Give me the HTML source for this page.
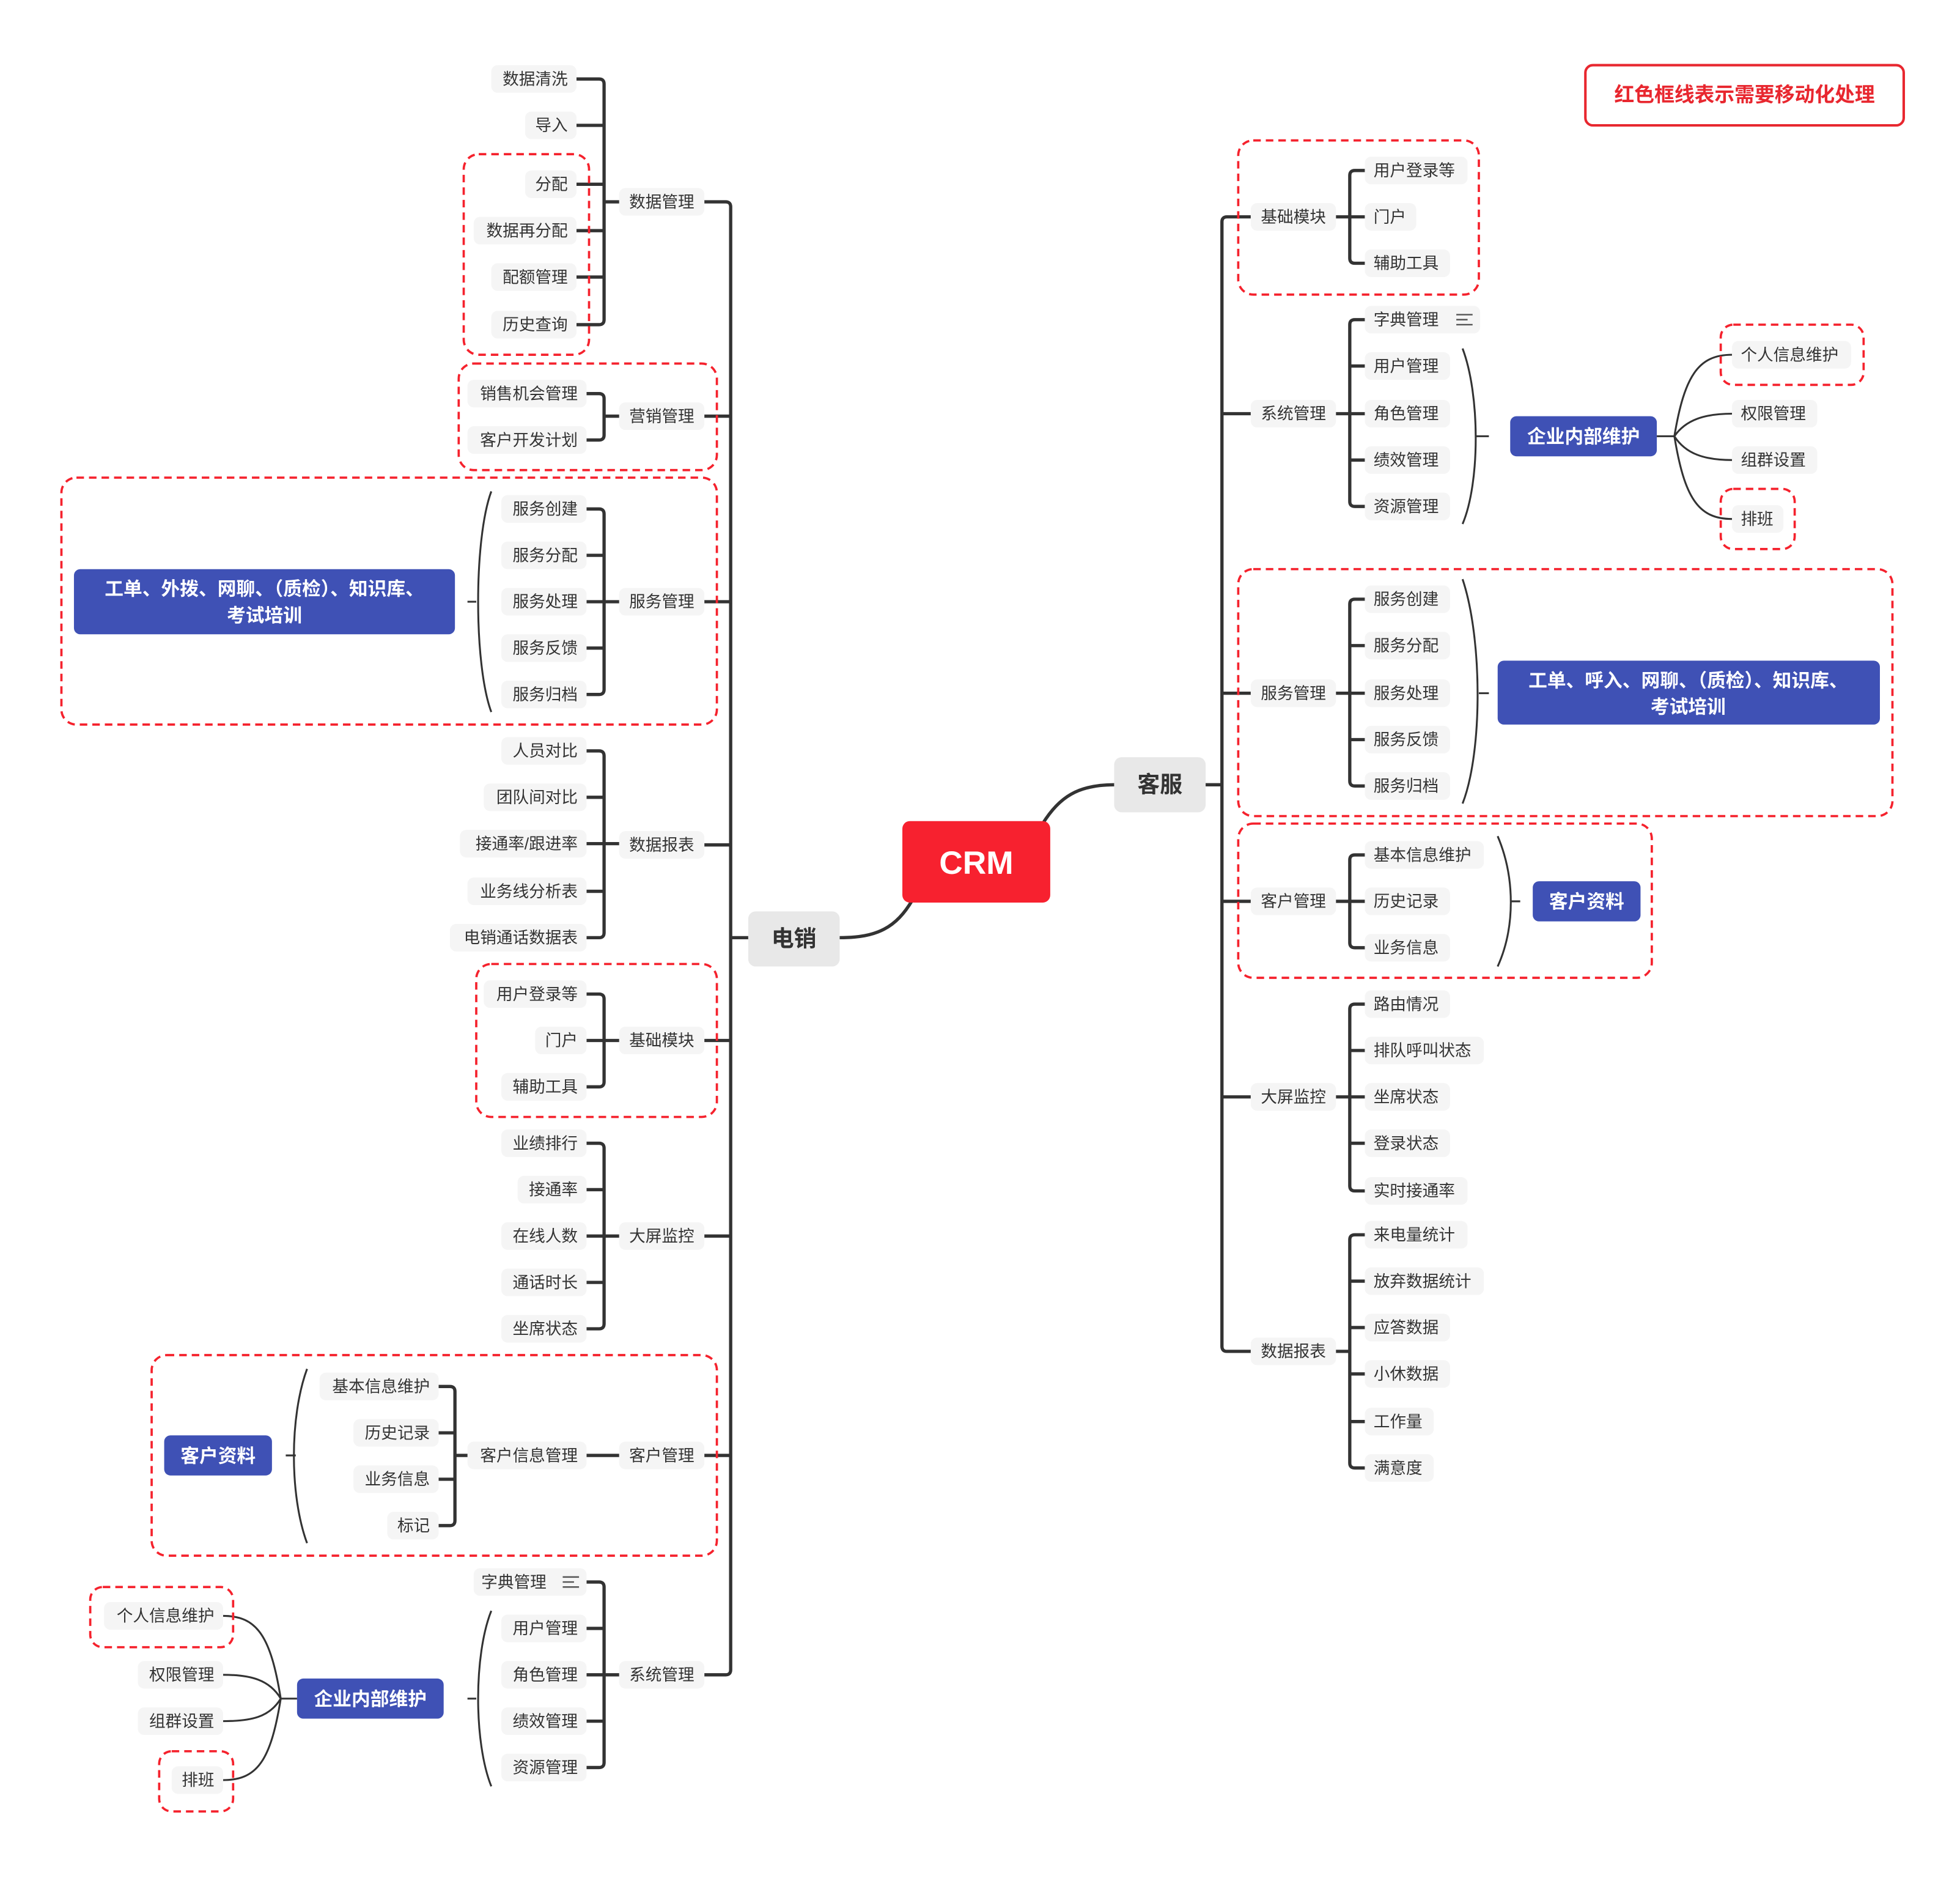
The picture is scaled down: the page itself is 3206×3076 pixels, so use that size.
<!DOCTYPE html>
<html><head><meta charset="utf-8"><style>
html,body{margin:0;padding:0;background:#fff}
svg{display:block}
text{font-family:"Liberation Sans","Noto Sans CJK SC",sans-serif}
.n{fill:#f5f5f5}
.t{font-size:13px;fill:#333}
.l{fill:none;stroke:#333;stroke-width:2.6;stroke-linejoin:round}
.b{fill:none;stroke:#333;stroke-width:1.5}
.d{fill:none;stroke:#f5222d;stroke-width:1.8;stroke-dasharray:6,4}
.bl{fill:#3f51b5}
.bt{font-size:15px;fill:#fff;font-weight:bold}
.lv{font-size:13.5px;fill:#333}
</style></head><body>
<svg width="3206" height="3076" viewBox="0 0 1563.9 1500.5" xmlns="http://www.w3.org/2000/svg">
<!-- legend -->
<rect x="1265" y="52" width="254" height="48" rx="6" fill="#fff" stroke="#e8272f" stroke-width="2"/>
<text x="1392" y="81" text-anchor="middle" style="font-size:16px;fill:#e8272f;font-weight:bold">红色框线表示需要移动化处理</text>

<!-- center -->
<path class="l" d="M728,718 C715,740 700,748 670,748"/>
<path class="l" d="M832,657 C845,636 860,626 889,626"/>
<rect x="720" y="655" width="118" height="65" rx="6" fill="#f7212f"/>
<text x="779" y="697" text-anchor="middle" style="font-size:26px;fill:#fff;font-weight:bold">CRM</text>
<rect x="597" y="727" width="73" height="44" rx="6" fill="#e8e8e8"/>
<text x="633.5" y="755" text-anchor="middle" style="font-size:18px;fill:#333;font-weight:bold">电销</text>
<rect x="889" y="604" width="73" height="44" rx="6" fill="#e8e8e8"/>
<text x="925.5" y="632" text-anchor="middle" style="font-size:18px;fill:#333;font-weight:bold">客服</text>

<!-- LEFT spine -->
<path class="l" d="M562,161 H579 Q583,161 583,165 V1332 Q583,1336 579,1336 H562"/>
<path class="l" d="M562,332 H583 M562,480 H583 M562,674 H583 M562,830 H583 M562,986 H583 M562,1161 H583 M583,748 H597"/>
<g>
<rect class="n" x="494" y="150" width="68" height="22" rx="5"/><text class="t" x="528" y="165.5" text-anchor="middle">数据管理</text>
<rect class="n" x="494" y="321" width="68" height="22" rx="5"/><text class="t" x="528" y="336.5" text-anchor="middle">营销管理</text>
<rect class="n" x="494" y="469" width="68" height="22" rx="5"/><text class="t" x="528" y="484.5" text-anchor="middle">服务管理</text>
<rect class="n" x="494" y="663" width="68" height="22" rx="5"/><text class="t" x="528" y="678.5" text-anchor="middle">数据报表</text>
<rect class="n" x="494" y="819" width="68" height="22" rx="5"/><text class="t" x="528" y="834.5" text-anchor="middle">基础模块</text>
<rect class="n" x="494" y="975" width="68" height="22" rx="5"/><text class="t" x="528" y="990.5" text-anchor="middle">大屏监控</text>
<rect class="n" x="494" y="1150" width="68" height="22" rx="5"/><text class="t" x="528" y="1165.5" text-anchor="middle">客户管理</text>
<rect class="n" x="494" y="1325" width="68" height="22" rx="5"/><text class="t" x="528" y="1340.5" text-anchor="middle">系统管理</text>
</g>

<!-- 数据管理 -->
<path class="l" d="M460,63 H478 Q482,63 482,67 V255 Q482,259 478,259 H460 M460,100 H482 M460,147 H482 M460,184 H482 M460,221 H482 M482,161 H494"/>
<rect class="n" x="392" y="52" width="68" height="22" rx="5"/><text class="t" x="453" y="67.5" text-anchor="end">数据清洗</text>
<rect class="n" x="419" y="89" width="41" height="22" rx="5"/><text class="t" x="453" y="104.5" text-anchor="end">导入</text>
<rect class="n" x="419" y="136" width="41" height="22" rx="5"/><text class="t" x="453" y="151.5" text-anchor="end">分配</text>
<rect class="n" x="378" y="173" width="82" height="22" rx="5"/><text class="t" x="453" y="188.5" text-anchor="end">数据再分配</text>
<rect class="n" x="392" y="210" width="68" height="22" rx="5"/><text class="t" x="453" y="225.5" text-anchor="end">配额管理</text>
<rect class="n" x="392" y="248" width="68" height="22" rx="5"/><text class="t" x="453" y="263.5" text-anchor="end">历史查询</text>

<!-- 营销管理 -->
<path class="l" d="M468,314 H478 Q482,314 482,318 V347 Q482,351 478,351 H468 M482,332 H494"/>
<rect class="n" x="373" y="303" width="95" height="22" rx="5"/><text class="t" x="461" y="318.5" text-anchor="end">销售机会管理</text>
<rect class="n" x="373" y="340" width="95" height="22" rx="5"/><text class="t" x="461" y="355.5" text-anchor="end">客户开发计划</text>

<!-- 服务管理 -->
<path class="l" d="M468,406 H478 Q482,406 482,410 V550 Q482,554 478,554 H468 M468,443 H482 M468,480 H494 M468,517 H482"/>
<rect class="n" x="400" y="395" width="68" height="22" rx="5"/><text class="t" x="461" y="410.5" text-anchor="end">服务创建</text>
<rect class="n" x="400" y="432" width="68" height="22" rx="5"/><text class="t" x="461" y="447.5" text-anchor="end">服务分配</text>
<rect class="n" x="400" y="469" width="68" height="22" rx="5"/><text class="t" x="461" y="484.5" text-anchor="end">服务处理</text>
<rect class="n" x="400" y="506" width="68" height="22" rx="5"/><text class="t" x="461" y="521.5" text-anchor="end">服务反馈</text>
<rect class="n" x="400" y="543" width="68" height="22" rx="5"/><text class="t" x="461" y="558.5" text-anchor="end">服务归档</text>
<path class="b" d="M392,392 C378,430 378,530 392,568 M373,480 H380"/>
<rect class="bl" x="59" y="454" width="304" height="52" rx="5"/>
<text class="bt" x="211" y="475" text-anchor="middle">工单、外拨、网聊、（质检）、知识库、</text>
<text class="bt" x="211" y="496" text-anchor="middle">考试培训</text>

<!-- 数据报表 -->
<path class="l" d="M468,599 H478 Q482,599 482,603 V744 Q482,748 478,748 H468 M468,636 H482 M468,673 H494 M468,711 H482"/>
<rect class="n" x="400" y="588" width="68" height="22" rx="5"/><text class="t" x="461" y="603.5" text-anchor="end">人员对比</text>
<rect class="n" x="386" y="625" width="82" height="22" rx="5"/><text class="t" x="461" y="640.5" text-anchor="end">团队间对比</text>
<rect class="n" x="367" y="662" width="101" height="22" rx="5"/><text class="t" x="461" y="677.5" text-anchor="end">接通率/跟进率</text>
<rect class="n" x="373" y="700" width="95" height="22" rx="5"/><text class="t" x="461" y="715.5" text-anchor="end">业务线分析表</text>
<rect class="n" x="359" y="737" width="109" height="22" rx="5"/><text class="t" x="461" y="752.5" text-anchor="end">电销通话数据表</text>

<!-- 基础模块 -->
<path class="l" d="M468,793 H478 Q482,793 482,797 V863 Q482,867 478,867 H468 M468,830 H494"/>
<rect class="n" x="386" y="782" width="82" height="22" rx="5"/><text class="t" x="461" y="797.5" text-anchor="end">用户登录等</text>
<rect class="n" x="427" y="819" width="41" height="22" rx="5"/><text class="t" x="461" y="834.5" text-anchor="end">门户</text>
<rect class="n" x="400" y="856" width="68" height="22" rx="5"/><text class="t" x="461" y="871.5" text-anchor="end">辅助工具</text>

<!-- 大屏监控 -->
<path class="l" d="M468,912 H478 Q482,912 482,916 V1056 Q482,1060 478,1060 H468 M468,949 H482 M468,986 H494 M468,1023 H482"/>
<rect class="n" x="400" y="901" width="68" height="22" rx="5"/><text class="t" x="461" y="916.5" text-anchor="end">业绩排行</text>
<rect class="n" x="413" y="938" width="55" height="22" rx="5"/><text class="t" x="461" y="953.5" text-anchor="end">接通率</text>
<rect class="n" x="400" y="975" width="68" height="22" rx="5"/><text class="t" x="461" y="990.5" text-anchor="end">在线人数</text>
<rect class="n" x="400" y="1012" width="68" height="22" rx="5"/><text class="t" x="461" y="1027.5" text-anchor="end">通话时长</text>
<rect class="n" x="400" y="1049" width="68" height="22" rx="5"/><text class="t" x="461" y="1064.5" text-anchor="end">坐席状态</text>

<!-- 客户管理 -->
<path class="l" d="M468,1161 H494"/>
<rect class="n" x="373" y="1150" width="95" height="22" rx="5"/><text class="t" x="461" y="1165.5" text-anchor="end">客户信息管理</text>
<path class="l" d="M350,1106 H359 Q363,1106 363,1110 V1213 Q363,1217 359,1217 H350 M350,1143 H363 M350,1180 H363 M363,1161 H373"/>
<rect class="n" x="255" y="1095" width="95" height="22" rx="5"/><text class="t" x="343" y="1110.5" text-anchor="end">基本信息维护</text>
<rect class="n" x="282" y="1132" width="68" height="22" rx="5"/><text class="t" x="343" y="1147.5" text-anchor="end">历史记录</text>
<rect class="n" x="282" y="1169" width="68" height="22" rx="5"/><text class="t" x="343" y="1184.5" text-anchor="end">业务信息</text>
<rect class="n" x="309" y="1206" width="41" height="22" rx="5"/><text class="t" x="343" y="1221.5" text-anchor="end">标记</text>
<path class="b" d="M245,1092 C231,1130 231,1193 245,1231 M228,1161 H236"/>
<rect class="bl" x="131" y="1145" width="86" height="32" rx="5"/>
<text class="bt" x="174" y="1166.5" text-anchor="middle">客户资料</text>

<!-- 系统管理 -->
<path class="l" d="M468,1262 H478 Q482,1262 482,1266 V1406 Q482,1410 478,1410 H468 M468,1299 H482 M468,1336 H494 M468,1373 H482"/>
<rect class="n" x="378" y="1251" width="90" height="22" rx="5"/><text class="t" x="384" y="1266.5">字典管理</text>
<path d="M449,1258 H462 M449,1262 H458 M449,1266 H462" stroke="#555" stroke-width="1.2"/>
<rect class="n" x="400" y="1288" width="68" height="22" rx="5"/><text class="t" x="461" y="1303.5" text-anchor="end">用户管理</text>
<rect class="n" x="400" y="1325" width="68" height="22" rx="5"/><text class="t" x="461" y="1340.5" text-anchor="end">角色管理</text>
<rect class="n" x="400" y="1362" width="68" height="22" rx="5"/><text class="t" x="461" y="1377.5" text-anchor="end">绩效管理</text>
<rect class="n" x="400" y="1399" width="68" height="22" rx="5"/><text class="t" x="461" y="1414.5" text-anchor="end">资源管理</text>
<path class="b" d="M392,1285 C378,1320 378,1390 392,1425 M373,1355 H380"/>
<rect class="bl" x="237" y="1339" width="117" height="32" rx="5"/>
<text class="bt" x="295.5" y="1360.5" text-anchor="middle">企业内部维护</text>
<path class="b" d="M237,1355 H224 M224,1355 C216,1305 205,1289 178,1289 M224,1355 C215,1340 200,1336 178,1336 M224,1355 C215,1370 200,1373 178,1373 M224,1355 C216,1405 205,1420 178,1420"/>
<rect class="n" x="83" y="1278" width="95" height="22" rx="5"/><text class="t" x="171" y="1293.5" text-anchor="end">个人信息维护</text>
<rect class="n" x="110" y="1325" width="68" height="22" rx="5"/><text class="t" x="171" y="1340.5" text-anchor="end">权限管理</text>
<rect class="n" x="110" y="1362" width="68" height="22" rx="5"/><text class="t" x="171" y="1377.5" text-anchor="end">组群设置</text>
<rect class="n" x="137" y="1409" width="41" height="22" rx="5"/><text class="t" x="171" y="1424.5" text-anchor="end">排班</text>

<!-- left dashed -->
<rect class="d" x="370" y="123" width="100" height="160" rx="12"/>
<rect class="d" x="366" y="290" width="206" height="85" rx="12"/>
<rect class="d" x="49" y="381" width="523" height="197" rx="12"/>
<rect class="d" x="380" y="769" width="192" height="122" rx="12"/>
<rect class="d" x="121" y="1081" width="451" height="160" rx="12"/>
<rect class="d" x="72" y="1266" width="114" height="48" rx="10"/>
<rect class="d" x="127" y="1397" width="59" height="48" rx="10"/>

<!-- RIGHT spine -->
<path class="l" d="M998,173 H979 Q975,173 975,177 V1074 Q975,1078 979,1078 H998 M975,330 H998 M975,553 H998 M975,719 H998 M975,875 H998 M962,626 H975"/>
<rect class="n" x="998" y="162" width="68" height="22" rx="5"/><text class="t" x="1032" y="177.5" text-anchor="middle">基础模块</text>
<rect class="n" x="998" y="319" width="68" height="22" rx="5"/><text class="t" x="1032" y="334.5" text-anchor="middle">系统管理</text>
<rect class="n" x="998" y="542" width="68" height="22" rx="5"/><text class="t" x="1032" y="557.5" text-anchor="middle">服务管理</text>
<rect class="n" x="998" y="708" width="68" height="22" rx="5"/><text class="t" x="1032" y="723.5" text-anchor="middle">客户管理</text>
<rect class="n" x="998" y="864" width="68" height="22" rx="5"/><text class="t" x="1032" y="879.5" text-anchor="middle">大屏监控</text>
<rect class="n" x="998" y="1067" width="68" height="22" rx="5"/><text class="t" x="1032" y="1082.5" text-anchor="middle">数据报表</text>

<!-- R 基础模块 -->
<path class="l" d="M1089,136 H1081 Q1077,136 1077,140 V206 Q1077,210 1081,210 H1089 M1066,173 H1089"/>
<rect class="n" x="1089" y="125" width="82" height="22" rx="5"/><text class="t" x="1096" y="140.5">用户登录等</text>
<rect class="n" x="1089" y="162" width="41" height="22" rx="5"/><text class="t" x="1096" y="177.5">门户</text>
<rect class="n" x="1089" y="199" width="68" height="22" rx="5"/><text class="t" x="1096" y="214.5">辅助工具</text>

<!-- R 系统管理 -->
<path class="l" d="M1089,255 H1081 Q1077,255 1077,259 V400 Q1077,404 1081,404 H1089 M1089,292 H1077 M1066,330 H1089 M1089,367 H1077"/>
<rect class="n" x="1089" y="244" width="92" height="22" rx="5"/><text class="t" x="1096" y="259.5">字典管理</text>
<path d="M1162,251 H1175 M1162,255 H1171 M1162,259 H1175" stroke="#555" stroke-width="1.2"/>
<rect class="n" x="1089" y="281" width="68" height="22" rx="5"/><text class="t" x="1096" y="296.5">用户管理</text>
<rect class="n" x="1089" y="319" width="68" height="22" rx="5"/><text class="t" x="1096" y="334.5">角色管理</text>
<rect class="n" x="1089" y="356" width="68" height="22" rx="5"/><text class="t" x="1096" y="371.5">绩效管理</text>
<rect class="n" x="1089" y="393" width="68" height="22" rx="5"/><text class="t" x="1096" y="408.5">资源管理</text>
<path class="b" d="M1167,278 C1181,315 1181,385 1167,418 M1178,348 H1188"/>
<rect class="bl" x="1205" y="332" width="117" height="32" rx="5"/>
<text class="bt" x="1263.5" y="353.5" text-anchor="middle">企业内部维护</text>
<path class="b" d="M1322,348 H1336 M1336,348 C1344,300 1355,283 1382,283 M1336,348 C1345,335 1360,330 1382,330 M1336,348 C1345,362 1360,367 1382,367 M1336,348 C1344,397 1355,414 1382,414"/>
<rect class="n" x="1382" y="272" width="95" height="22" rx="5"/><text class="t" x="1389" y="287.5">个人信息维护</text>
<rect class="n" x="1382" y="319" width="68" height="22" rx="5"/><text class="t" x="1389" y="334.5">权限管理</text>
<rect class="n" x="1382" y="356" width="68" height="22" rx="5"/><text class="t" x="1389" y="371.5">组群设置</text>
<rect class="n" x="1382" y="403" width="41" height="22" rx="5"/><text class="t" x="1389" y="418.5">排班</text>

<!-- R 服务管理 -->
<path class="l" d="M1089,478 H1081 Q1077,478 1077,482 V623 Q1077,627 1081,627 H1089 M1089,515 H1077 M1066,553 H1089 M1089,590 H1077"/>
<rect class="n" x="1089" y="467" width="68" height="22" rx="5"/><text class="t" x="1096" y="482.5">服务创建</text>
<rect class="n" x="1089" y="504" width="68" height="22" rx="5"/><text class="t" x="1096" y="519.5">服务分配</text>
<rect class="n" x="1089" y="542" width="68" height="22" rx="5"/><text class="t" x="1096" y="557.5">服务处理</text>
<rect class="n" x="1089" y="579" width="68" height="22" rx="5"/><text class="t" x="1096" y="594.5">服务反馈</text>
<rect class="n" x="1089" y="616" width="68" height="22" rx="5"/><text class="t" x="1096" y="631.5">服务归档</text>
<path class="b" d="M1167,462 C1183,510 1183,600 1167,641 M1180,553 H1188"/>
<rect class="bl" x="1195" y="527" width="305" height="51" rx="5"/>
<text class="bt" x="1347" y="548" text-anchor="middle">工单、呼入、网聊、（质检）、知识库、</text>
<text class="bt" x="1347" y="569" text-anchor="middle">考试培训</text>

<!-- R 客户管理 -->
<path class="l" d="M1089,682 H1081 Q1077,682 1077,686 V752 Q1077,756 1081,756 H1089 M1066,719 H1089"/>
<rect class="n" x="1089" y="671" width="95" height="22" rx="5"/><text class="t" x="1096" y="686.5">基本信息维护</text>
<rect class="n" x="1089" y="708" width="68" height="22" rx="5"/><text class="t" x="1096" y="723.5">历史记录</text>
<rect class="n" x="1089" y="745" width="68" height="22" rx="5"/><text class="t" x="1096" y="760.5">业务信息</text>
<path class="b" d="M1195,667 C1209,700 1209,740 1195,771 M1206,719 H1213"/>
<rect class="bl" x="1223" y="703" width="86" height="32" rx="5"/>
<text class="bt" x="1266" y="724.5" text-anchor="middle">客户资料</text>

<!-- R 大屏监控 -->
<path class="l" d="M1089,801 H1081 Q1077,801 1077,805 V946 Q1077,950 1081,950 H1089 M1089,838 H1077 M1066,875 H1089 M1089,912 H1077"/>
<rect class="n" x="1089" y="790" width="68" height="22" rx="5"/><text class="t" x="1096" y="805.5">路由情况</text>
<rect class="n" x="1089" y="827" width="95" height="22" rx="5"/><text class="t" x="1096" y="842.5">排队呼叫状态</text>
<rect class="n" x="1089" y="864" width="68" height="22" rx="5"/><text class="t" x="1096" y="879.5">坐席状态</text>
<rect class="n" x="1089" y="901" width="68" height="22" rx="5"/><text class="t" x="1096" y="916.5">登录状态</text>
<rect class="n" x="1089" y="939" width="82" height="22" rx="5"/><text class="t" x="1096" y="954.5">实时接通率</text>

<!-- R 数据报表 -->
<path class="l" d="M1089,985 H1081 Q1077,985 1077,989 V1167 Q1077,1171 1081,1171 H1089 M1089,1022 H1077 M1089,1059 H1077 M1089,1096 H1077 M1089,1134 H1077 M1066,1078 H1077"/>
<rect class="n" x="1089" y="974" width="82" height="22" rx="5"/><text class="t" x="1096" y="989.5">来电量统计</text>
<rect class="n" x="1089" y="1011" width="95" height="22" rx="5"/><text class="t" x="1096" y="1026.5">放弃数据统计</text>
<rect class="n" x="1089" y="1048" width="68" height="22" rx="5"/><text class="t" x="1096" y="1063.5">应答数据</text>
<rect class="n" x="1089" y="1085" width="68" height="22" rx="5"/><text class="t" x="1096" y="1100.5">小休数据</text>
<rect class="n" x="1089" y="1123" width="55" height="22" rx="5"/><text class="t" x="1096" y="1138.5">工作量</text>
<rect class="n" x="1089" y="1160" width="55" height="22" rx="5"/><text class="t" x="1096" y="1175.5">满意度</text>

<!-- right dashed -->
<rect class="d" x="988" y="112" width="192" height="123" rx="12"/>
<rect class="d" x="988" y="454" width="522" height="197" rx="12"/>
<rect class="d" x="988" y="657" width="330" height="123" rx="12"/>
<rect class="d" x="1373" y="259" width="114" height="48" rx="10"/>
<rect class="d" x="1373" y="390" width="59" height="48" rx="10"/>
</svg>
</body></html>
